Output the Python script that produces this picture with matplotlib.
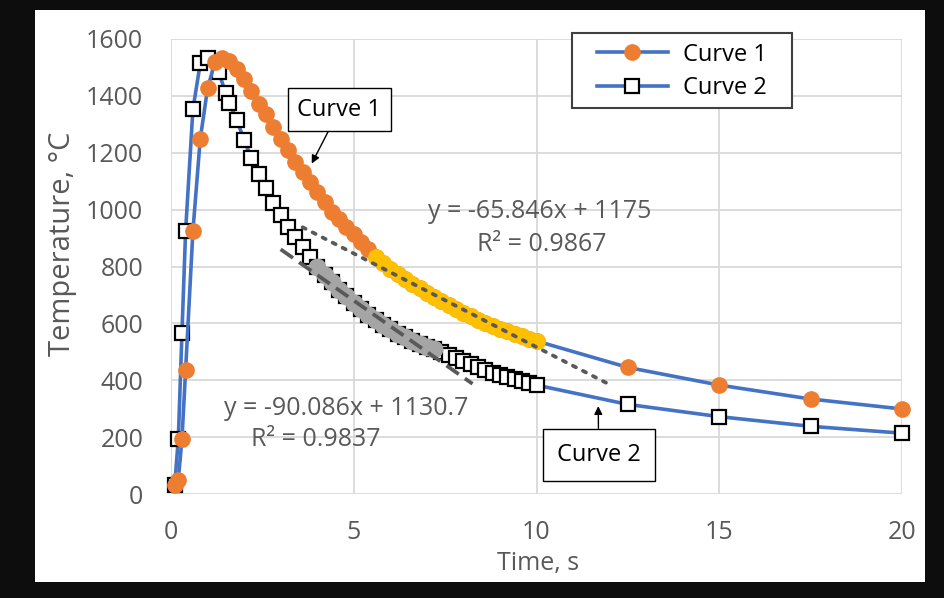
import matplotlib
matplotlib.use('Agg')
import matplotlib.pyplot as plt
from matplotlib.patches import Rectangle
import numpy as np

plt.rcParams['font.family'] = ['Open Sans', 'DejaVu Sans']

# ---- data ----
t1 = [0.1, 0.2, 0.3, 0.4, 0.6, 0.8, 1.0, 1.2, 1.4, 1.6, 1.8, 2.0, 2.2, 2.4, 2.6, 2.8,
      3.0, 3.2, 3.4, 3.6, 3.8, 4.0, 4.2, 4.4, 4.6, 4.8, 5.0, 5.2, 5.4, 5.6, 5.8, 6.0,
      6.2, 6.4, 6.6, 6.8, 7.0, 7.2, 7.4, 7.6, 7.8, 8.0, 8.2, 8.4, 8.6, 8.8, 9.0, 9.2,
      9.4, 9.6, 9.8, 10.0, 12.5, 15.0, 17.5, 20.0]
T1 = [30, 50, 193, 436, 926, 1248, 1426, 1518, 1532, 1522, 1495, 1458, 1416, 1372, 1335, 1290,
      1250, 1208, 1166, 1131, 1097, 1062, 1027, 993, 966, 940, 913, 887, 863, 835, 812, 792,
      774, 757, 739, 723, 707, 692, 678, 664, 650, 638, 625, 613, 602, 591, 581, 572,
      562, 554, 546, 538, 445, 383, 334, 299]

t2 = [0.1, 0.2, 0.3, 0.4, 0.6, 0.8, 1.0, 1.3, 1.5, 1.6, 1.8, 2.0, 2.2, 2.4, 2.6, 2.8,
      3.0, 3.2, 3.4, 3.6, 3.8, 4.0, 4.2, 4.4, 4.6, 4.8, 5.0, 5.2, 5.4, 5.6, 5.8, 6.0,
      6.2, 6.4, 6.6, 6.8, 7.0, 7.2, 7.4, 7.6, 7.8, 8.0, 8.2, 8.4, 8.6, 8.8, 9.0, 9.2,
      9.4, 9.6, 9.8, 10.0, 12.5, 15.0, 17.5, 20.0]
T2 = [30, 193, 567, 926, 1353, 1514, 1532, 1485, 1409, 1374, 1315, 1245, 1180, 1125, 1075, 1022,
      980, 940, 903, 868, 834, 800, 770, 744, 719, 695, 672, 651, 631, 612, 595, 579,
      564, 551, 539, 528, 518, 510, 499, 488, 477, 467, 457, 447, 437, 427, 419, 411,
      404, 397, 390, 383, 315, 272, 238, 214]

series_names = ['Curve 1', 'Curve 2']
hl1_range = [5.6, 10.0]   # highlighted (fitted) part of Curve 1
hl2_range = [4.0, 7.2]    # highlighted (fitted) part of Curve 2
fit1 = [-65.846, 1175.0]
fit1_x = [3.6, 12.0]
fit2 = [-90.086, 1130.7]
fit2_x = [3.0, 8.25]
eq1_text = ['y = -65.846x + 1175', 'R² = 0.9867']
eq2_text = ['y = -90.086x + 1130.7', 'R² = 0.9837']
xticks = [0, 5, 10, 15, 20]
yticks = [0, 200, 400, 600, 800, 1000, 1200, 1400, 1600]

BLUE = '#4472C4'
ORANGE = '#ED7D31'
YELLOW = '#FFC000'
GRAY = '#A5A5A5'
TXT = '#595959'

fig = plt.figure(figsize=(9.44, 5.98), dpi=100, facecolor='#0d0d0d')
fig.patches.append(Rectangle((35/944, 16/598), 890/944, 572/598, transform=fig.transFigure,
                             facecolor='white', edgecolor='none', zorder=-10))
ax = fig.add_axes([171/944, 104/598, 731/944, 455/598])
ax.set_zorder(1)
ax.set_facecolor('white')

ax.set_xlim(0, 20)
ax.set_ylim(0, 1600)
ax.set_xticks(xticks)
ax.set_yticks(yticks)
ax.grid(True, color='#D9D9D9', lw=1.3, zorder=0)
ax.set_axisbelow(True)
for s in ax.spines.values():
    s.set_visible(False)
ax.tick_params(length=0, labelsize=18, colors=TXT)
ax.tick_params(axis='y', pad=20)
ax.tick_params(axis='x', pad=19)

a_t1, a_T1 = np.array(t1), np.array(T1)
a_t2, a_T2 = np.array(t2), np.array(T2)

l2, = ax.plot(a_t2, a_T2, '-', color=BLUE, lw=2.6, marker='s', ms=10.5, mfc='white',
              mec='black', mew=1.6, zorder=3, clip_on=False, label=series_names[1])
l1, = ax.plot(a_t1, a_T1, '-', color=BLUE, lw=2.6, marker='o', ms=11, mfc=ORANGE,
              mec=ORANGE, zorder=4, clip_on=False, label=series_names[0])

m1 = (a_t1 >= hl1_range[0]) & (a_t1 <= hl1_range[1])
m2 = (a_t2 >= hl2_range[0]) & (a_t2 <= hl2_range[1])
ax.plot(a_t2[m2], a_T2[m2], 'o', ms=11.8, mfc=GRAY, mec=GRAY, zorder=5)
ax.plot(a_t1[m1], a_T1[m1], 'o', ms=11, mfc=YELLOW, mec=YELLOW, zorder=5)

x1 = np.array(fit1_x)
ax.plot(x1, fit1[0]*x1 + fit1[1], color=TXT, lw=2.7, ls=(0, (0.9, 2.1)),
        dash_capstyle='round', zorder=6)
x2 = np.array(fit2_x)
ax.plot(x2, fit2[0]*x2 + fit2[1], color=TXT, lw=2.7, ls=(0, (4, 2)), zorder=6)

ax.text(10.1, 995, eq1_text[0], ha='center', va='center', fontsize=18, color=TXT)
ax.text(10.15, 876, eq1_text[1], ha='center', va='center', fontsize=18, color=TXT)
ax.text(4.8, 302, eq2_text[0], ha='center', va='center', fontsize=18, color=TXT)
ax.text(3.95, 190, eq2_text[1], ha='center', va='center', fontsize=18, color=TXT)

ax.annotate('Curve 1', xy=(3.85, 1162), xytext=(4.61, 1352), ha='center', va='center',
            fontsize=17, color='black', zorder=8,
            bbox=dict(boxstyle='square,pad=0.4', fc='white', ec='black', lw=1),
            arrowprops=dict(arrowstyle='-|>', color='black', lw=1, mutation_scale=12,
                            shrinkA=0, shrinkB=0))
ax.annotate('Curve 2', xy=(11.69, 309), xytext=(11.7, 137), ha='center', va='center',
            fontsize=17, color='black', zorder=8,
            bbox=dict(boxstyle='square,pad=0.6', fc='white', ec='black', lw=1),
            arrowprops=dict(arrowstyle='-|>', color='black', lw=1, mutation_scale=12,
                            shrinkA=0, shrinkB=0))

# legend frame drawn as a separate box, legend entries placed inside it
ax.add_patch(Rectangle((0.5486, 0.8484), 0.3009, 0.1648, transform=ax.transAxes,
                       facecolor='white', edgecolor='#404040', lw=1.5, zorder=9,
                       clip_on=False))
leg = ax.legend(handles=[l1, l2], loc='upper left', bbox_to_anchor=(0.5828, 0.992),
                fontsize=17, frameon=False, handlelength=3.0, borderpad=0,
                labelspacing=0.4, handletextpad=0.65, borderaxespad=0)
leg.set_zorder(10)

ax.set_xlabel('Time, s', fontsize=18, color=TXT)
ax.set_ylabel('Temperature, °C', fontsize=21, color=TXT)
ax.xaxis.set_label_coords(0.502, -0.125)
ax.yaxis.set_label_coords(-0.128, 0.55)

fig.savefig('out.png', dpi=100, facecolor=fig.get_facecolor())
